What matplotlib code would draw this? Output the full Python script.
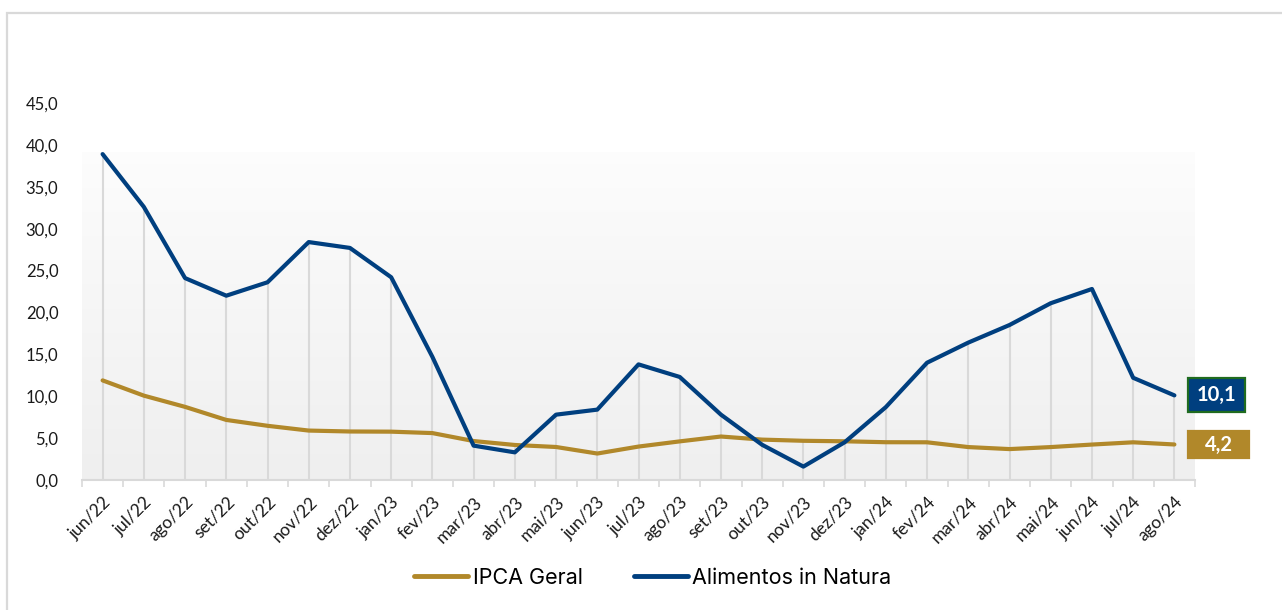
import numpy as np
import matplotlib
matplotlib.use("Agg")
import matplotlib.pyplot as plt
from matplotlib.patches import Rectangle
from matplotlib.lines import Line2D

categories = ["jun/22", "jul/22", "ago/22", "set/22", "out/22", "nov/22", "dez/22",
              "jan/23", "fev/23", "mar/23", "abr/23", "mai/23", "jun/23", "jul/23",
              "ago/23", "set/23", "out/23", "nov/23", "dez/23", "jan/24", "fev/24",
              "mar/24", "abr/24", "mai/24", "jun/24", "jul/24", "ago/24"]
ipca_geral = [11.89, 10.07, 8.73, 7.17, 6.47, 5.90, 5.79, 5.77, 5.60, 4.65, 4.18, 3.94,
              3.16, 3.99, 4.61, 5.19, 4.82, 4.68, 4.62, 4.51, 4.50, 3.93, 3.69, 3.93,
              4.23, 4.50, 4.24]
alimentos = [38.9, 32.6, 24.1, 22.0, 23.6, 28.4, 27.7, 24.2, 14.7, 4.1, 3.3, 7.8,
             8.4, 13.8, 12.3, 7.8, 4.2, 1.6, 4.5, 8.7, 14.0, 16.4, 18.5, 21.1,
             22.8, 12.2, 10.1]
y_ticks = [0, 5, 10, 15, 20, 25, 30, 35, 40, 45]

GOLD = "#B1882A"
BLUE = "#003F7F"

W, H = 1282, 610
fig = plt.figure(figsize=(W / 100, H / 100), dpi=100)
fig.patch.set_facecolor("white")

# outer chart border
fig.add_artist(Rectangle((7 / W, -0.02), 1.05, (H - 13) / H + 0.02,
                         transform=fig.transFigure, fill=False,
                         edgecolor="#D9D9D9", linewidth=1.6))

left, right, top, bottom = 82, 1195, 103, 480
ax = fig.add_axes([left / W, (H - bottom) / H, (right - left) / W, (bottom - top) / H])
ax.set_facecolor("none")

x = np.arange(len(categories))
ax.set_xlim(-0.5, len(categories) - 0.5)
ax.set_ylim(0, 45)

# gradient plot-area fill
grad_top = (bottom - 152) / (bottom - top) * 45
g = np.linspace(0, 1, 256).reshape(-1, 1)
c_top = np.array([0.99, 0.99, 0.99])
c_bot = np.array([0.937, 0.937, 0.937])
img = c_bot + (c_top - c_bot) * g
ax.imshow(img[:, None, :].repeat(2, axis=1), extent=(-0.5, len(categories) - 0.5, 0, grad_top),
          origin="lower", aspect="auto", zorder=0, interpolation="bilinear")

# drop lines
tops = np.maximum(ipca_geral, alimentos)
ax.vlines(x, 0, tops, colors="#D9D9D9", linewidth=1.5, zorder=1)

ax.plot(x, ipca_geral, color=GOLD, linewidth=3.0, zorder=3, solid_capstyle="round")
ax.plot(x, alimentos, color=BLUE, linewidth=3.0, zorder=4, solid_capstyle="round")

tick_font = "Lato"
ax.set_yticks(y_ticks)
ax.set_yticklabels([f"{v:.1f}".replace(".", ",") for v in y_ticks],
                   fontsize=12, family=tick_font, color="#1a1a1a")
ax.tick_params(axis="y", length=0, pad=17)
ax.set_xticks(x)
ax.set_xticklabels(categories, rotation=45, ha="right", va="top", rotation_mode="anchor",
                   fontsize=12.5, family=tick_font, color="#1a1a1a")
ax.tick_params(axis="x", which="major", length=0, pad=10)
ax.set_xticks(np.arange(-0.5, len(categories), 1.0), minor=True)
ax.tick_params(axis="x", which="minor", length=5, width=1.2, color="#D9D9D9", direction="out")

for s in ["left", "right", "top"]:
    ax.spines[s].set_visible(False)
ax.spines["bottom"].set_color("#D9D9D9")
ax.spines["bottom"].set_linewidth(1.5)

# end labels (boxes placed relative to the last data point)
last = len(categories) - 1
def end_label(val, face, edge, box_w, box_h):
    px, py = ax.transData.transform((last, val))
    x0 = px + 14
    fig.add_artist(Rectangle((x0 / W, (py - box_h / 2) / H), box_w / W, box_h / H,
                             transform=fig.transFigure, facecolor=face, edgecolor=edge,
                             linewidth=1.6, zorder=5))
    fig.text((x0 + box_w / 2) / W, py / H, f"{val:.1f}".replace(".", ","),
             ha="center", va="center", color="white", fontsize=14.5,
             fontweight="bold", family="Lato", zorder=6)

end_label(alimentos[-1], BLUE, "#1F6B1F", 57, 34)
end_label(ipca_geral[-1], GOLD, GOLD, 61, 27)

handles = [Line2D([], [], color=GOLD, linewidth=3.5, solid_capstyle="round"),
           Line2D([], [], color=BLUE, linewidth=3.5, solid_capstyle="round")]
fig.legend(handles, ["IPCA Geral", "Alimentos in Natura"], loc="center",
           bbox_to_anchor=(653 / W, (H - 578) / H), ncol=2, frameon=False,
           prop=dict(family="Inter", size=15.5), handlelength=2.5, handletextpad=0.2,
           columnspacing=2.4)

fig.savefig("out.png", dpi=100, facecolor="white")
